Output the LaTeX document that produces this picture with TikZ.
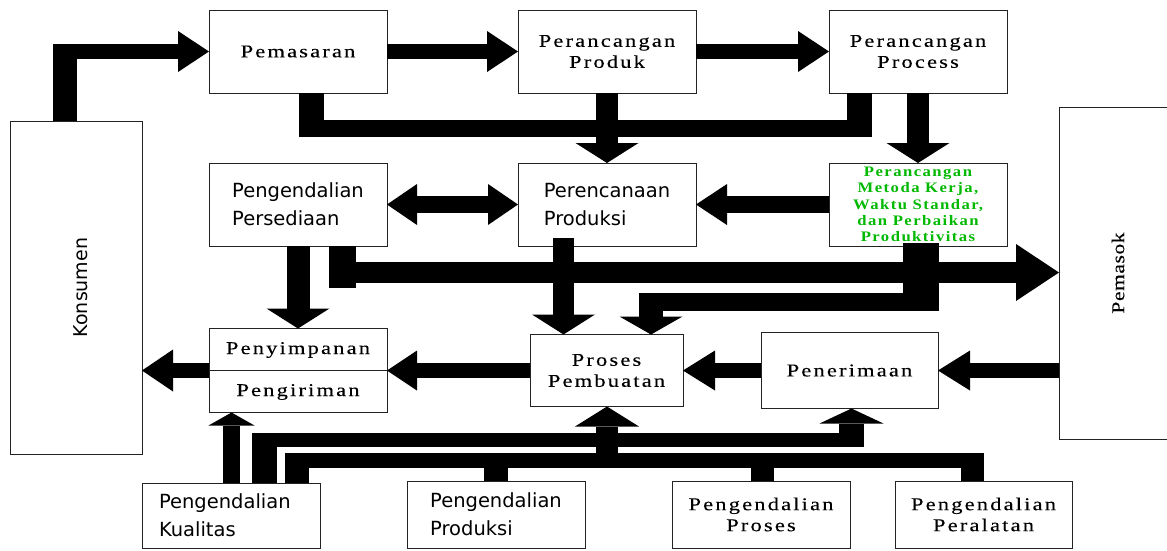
\documentclass[tikz,border=0pt]{standalone}
\usepackage{fontspec}
\setmainfont{Liberation Serif}
\newfontfamily\wserif[FakeStretch=1.25,LetterSpace=12,FakeBold=0.2]{Liberation Serif}
\newfontfamily\pserif[FakeStretch=1.2,LetterSpace=3,FakeBold=0.1]{Liberation Serif}
\newfontfamily\gserif[FakeStretch=1.15,LetterSpace=10]{Liberation Serif}
\newfontfamily\sansf{DejaVu Sans}
\usetikzlibrary{arrows.meta}
\definecolor{gtext}{RGB}{0,185,0}
\definecolor{bdr}{RGB}{35,35,35}
\begin{document}
\begin{tikzpicture}[x=1pt,y=-1pt,
  box/.style={draw=bdr, line width=1pt, rectangle, inner sep=0pt, outer sep=0pt,
              minimum width=178pt, minimum height=83pt, fill=white},
  ser/.style={font=\wserif\fontsize{18}{21}\selectfont, align=center},
  sans/.style={font=\sansf\fontsize{19.5}{28}\selectfont, align=left},
  thk/.style={line width=#1, line cap=butt, line join=miter, draw=black},
  ah/.style={-{Triangle[length=31pt,width=41pt,line width=0pt]}},
  ahh/.style={{Triangle[length=30pt,width=41pt,line width=0pt]}-{Triangle[length=30pt,width=41pt,line width=0pt]}},
  av/.style={-{Triangle[length=#1,width=63pt,line width=0pt]}},
]
\useasboundingbox (0,0) rectangle (1167,550);

% ---------- boxes ----------
\node[box, minimum width=132pt, minimum height=333pt] (kons) at (76,287.5) {};
\node[rotate=90, font=\sansf\fontsize{19}{20}\selectfont] (konstext) at (81,287.5) {Konsumen};

\node[box, ser] (pemas) at (298,51.5) {Pemasaran};
\node[box, ser] (prod) at (607,51.5) {Perancangan\\Produk};
\node[box, ser] (proc) at (918,51.5) {Perancangan\\Process};

\node[box, sans] (pers) at (298,204.5) {Pengendalian\\Persediaan};
\node[box, sans] (renc) at (607,204.5) {Perencanaan\\Produksi};
\node[box, align=center, text=gtext, font=\gserif\bfseries\fontsize{14.5}{16.3}\selectfont] (metoda) at (918,204.5)
  {Perancangan\\Metoda Kerja,\\Waktu Standar,\\dan Perbaikan\\Produktivitas};

\node[inner sep=0pt, outer sep=0pt, minimum width=122pt, minimum height=332pt] (pemasok) at (1120,273) {};
\draw[bdr, line width=1pt] ([xshift=108pt]pemasok.north west) -- (pemasok.north west)
  -- (pemasok.south west) -- ([xshift=108pt]pemasok.south west);
\node[rotate=90, font=\pserif\fontsize{18}{20}\selectfont] (pemasoktext) at (1118,273) {Pemasok};

\node[box, minimum height=84pt] (simpan) at (298,370.5) {};
\coordinate (div) at (0,370);
\draw[bdr, line width=1pt] (simpan.west |- div) -- (simpan.east |- div);
\node[ser] (sp1) at (298,350) {Penyimpanan};
\node[ser] (sp2) at (298,392) {Pengiriman};

\node[box, ser, minimum width=153pt, minimum height=72pt] (buat) at (606.5,370.5) {Proses\\Pembuatan};
\node[box, ser, minimum width=177pt, minimum height=76pt] (terima) at (849.5,370.5) {Penerimaan};

\node[box, sans, minimum height=65pt, text width=144pt] (kual) at (231,515.5) {Pengendalian\\Kualitas};
\node[box, sans, minimum height=67pt] (kprod) at (496,514.5) {Pengendalian\\Produksi};
\node[box, ser, minimum height=67pt] (kproses) at (761,514.5) {Pengendalian\\Proses};
\node[box, ser, minimum width=177pt, minimum height=67pt] (kalat) at (983.5,514.5) {Pengendalian\\Peralatan};

% ---------- top row ----------
\coordinate (k1) at (65,44);
\coordinate (k0) at (53,51.5);
\draw[thk=24pt] (kons.north -| k1) -- (k1);
\draw[thk=15pt, ah] (k0) -- (pemas.west);
\draw[thk=15pt, ah] (pemas) -- (prod);
\draw[thk=15pt, ah] (prod) -- (proc);

% bus under top row
\coordinate (b1) at (311.5,137);
\coordinate (b2) at (859.5,137);
\coordinate (bl) at (299,128.5);
\coordinate (br) at (872,128.5);
\draw[thk=25pt] (pemas.south -| b1) -- (b1);
\draw[thk=25pt] (proc.south -| b2) -- (b2);
\draw[thk=17pt] (bl) -- (br);
\draw[thk=22pt, av=20pt] (prod) -- (renc);
\draw[thk=22pt, av=20pt] (proc) -- (metoda);

% ---------- middle row ----------
\draw[thk=17pt, ahh] (pers) -- (renc);
\draw[thk=17pt, ah] (metoda) -- (renc);

\draw[thk=23pt, av=20pt] (pers) -- (simpan.north);
\coordinate (p1) at (342.5,288);
\coordinate (p2) at (329,272.5);
\draw[thk=27pt] (pers.south -| p1) -- (p1);
\draw[thk=21pt, -{Triangle[length=43pt,width=57pt,line width=0pt]}] (p2) -- (p2 -| pemasok.west);

\coordinate (r1) at (563.5,238);
\draw[thk=21pt, av=20pt] (r1) -- (buat.north -| r1);

\coordinate (m0) at (921,243);
\coordinate (m1) at (921,311);
\coordinate (m2) at (939,302);
\coordinate (m3) at (639,302);
\coordinate (m4) at (651,293);
\draw[thk=36pt] (m0) -- (m1);
\draw[thk=18pt] (m2) -- (m3);
\draw[thk=24pt, av=18pt] (m4) -- (buat.north -| m4);

% ---------- lower row ----------
\draw[thk=15pt, -{Triangle[length=30pt,width=40pt,line width=0pt]}] (buat) -- (simpan);
\draw[thk=15pt, -{Triangle[length=31pt,width=42pt,line width=0pt]}] (simpan.west) -- (simpan.west -| kons.east);
\draw[thk=15pt, -{Triangle[length=32pt,width=40pt,line width=0pt]}] (terima) -- (buat);
\draw[thk=15pt, -{Triangle[length=32pt,width=40pt,line width=0pt]}] (terima.east -| pemasok.west) -- (terima.east);

% ---------- bottom buses ----------
\coordinate (q1) at (231.5,483);
\draw[thk=17pt, -{Triangle[length=13pt,width=46pt,line width=0pt]}] (kual.north -| q1) -- (simpan.south -| q1);

\coordinate (q2) at (264.5,433);
\coordinate (q3) at (252,440);
\coordinate (q4) at (864,440);
\coordinate (q5) at (851.5,447);
\draw[thk=25pt] (kual.north -| q2) -- (q2);
\draw[thk=14pt] (q3) -- (q4);
\draw[thk=25pt, -{Triangle[length=15pt,width=64pt,line width=0pt]}] (q5) -- (terima.south -| q5);

\coordinate (s1) at (297,453);
\coordinate (s2) at (285,460.5);
\coordinate (s3) at (984,460.5);
\coordinate (s4) at (972.5,453);
\coordinate (s5) at (496,468);
\coordinate (s6) at (762.5,468);
\coordinate (s7) at (607,468);
\draw[thk=24pt] (kual.north -| s1) -- (s1);
\draw[thk=15pt] (s2) -- (s3);
\draw[thk=23pt] (s4) -- (kalat.north -| s4);
\draw[thk=24pt] (s5) -- (kprod.north -| s5);
\draw[thk=23pt] (s6) -- (kproses.north -| s6);
\draw[thk=22pt, -{Triangle[length=20pt,width=64pt,line width=0pt]}] (s7) -- (buat.south -| s7);
\end{tikzpicture}
\end{document}
